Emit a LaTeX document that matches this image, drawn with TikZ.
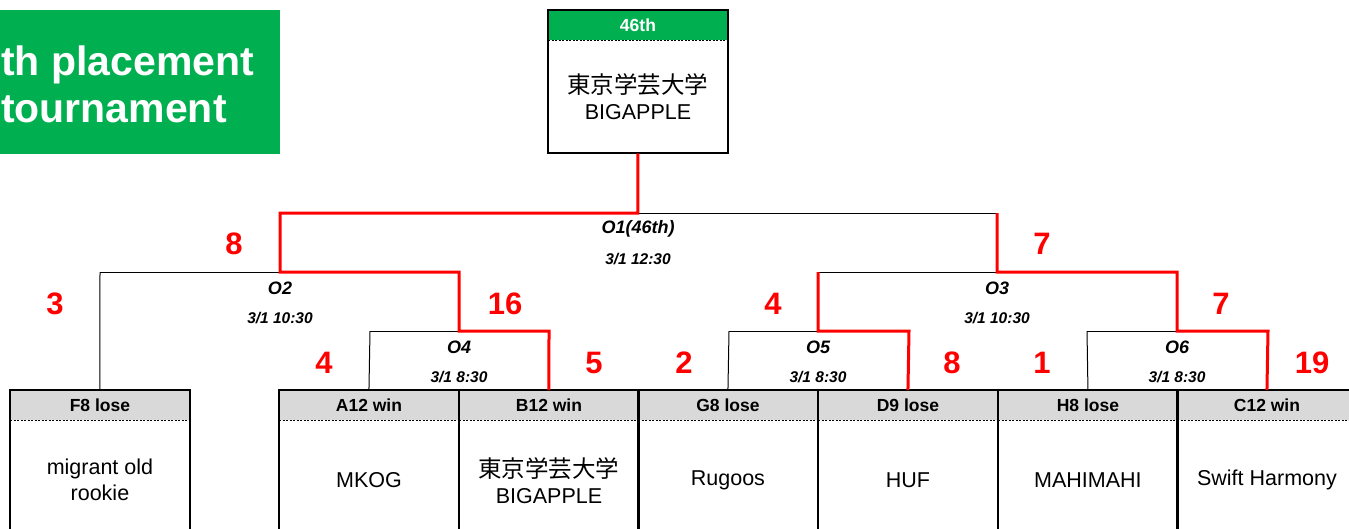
\documentclass[tikz,border=0pt]{standalone}
\usepackage{fontspec}
\setmainfont{Liberation Sans}
\newfontfamily\jpfont{Noto Sans CJK JP}
\definecolor{tgreen}{HTML}{00B050}
\definecolor{hgray}{HTML}{D9D9D9}
\definecolor{wred}{HTML}{FF0000}
\newcommand{\jptext}[1]{{\jpfont\fontsize{23.5}{26}\selectfont #1}}
\tikzset{
  cellhead/.style={anchor=north west, minimum width=179.5pt, minimum height=30pt, inner sep=0pt, fill=hgray, font=\fontsize{17.5}{20}\selectfont\bfseries},
  cellbody/.style={anchor=north west, minimum width=179.5pt, minimum height=120pt, inner sep=0pt, align=center, font=\fontsize{21.5}{26}\selectfont},
  cellframe/.style={line width=2pt},
  sepline/.style={line width=0.9pt, dash pattern=on 2pt off 1.5pt},
  thinline/.style={line width=1pt},
  winline/.style={line width=3pt, draw=wred},
  score/.style={text=wred, font=\fontsize{31}{31}\selectfont\bfseries, inner sep=0pt},
  mlabel/.style={font=\fontsize{18}{20}\selectfont\bfseries\itshape, inner sep=0pt},
  mdate/.style={font=\fontsize{15.5}{18}\selectfont\bfseries\itshape, inner sep=0pt},
  titletext/.style={anchor=base west, inner sep=0pt, text=white, font=\fontsize{41}{44}\selectfont\bfseries},
}
\begin{document}
\begin{tikzpicture}[x=1pt,y=-1pt]
\useasboundingbox (0,0) rectangle (1349,528);
\clip (0,0) rectangle (1349,528);
\fill[white] (0,0) rectangle (1349,528);

% title
\fill[tgreen] (0,10) rectangle (280,154);
\node[titletext] (title1) at (1,75) {th placement};
\node[titletext] (title2) at (1,122) {tournament};

% top box
\node[cellhead, fill=tgreen, text=white] (tophd) at (548,10) {46th};
\node[cellbody, minimum height=113pt] (topbd) at (548,40) {\jptext{東京学芸大学}\\BIGAPPLE};
\draw[cellframe] (tophd.north west) rectangle (topbd.south east);
\draw[sepline] (tophd.south west) -- (tophd.south east);

% team cells
\node[cellhead] (hF8) at (10,390) {F8 lose};
\node[cellbody] (bF8) at (10,420) {migrant old\\rookie};
\node[cellhead] (hA12) at (279,390) {A12 win};
\node[cellbody] (bA12) at (279,420) {MKOG};
\node[cellhead] (hB12) at (459,390) {B12 win};
\node[cellbody] (bB12) at (459,420) {\jptext{東京学芸大学}\\BIGAPPLE};
\node[cellhead] (hG8) at (638,390) {G8 lose};
\node[cellbody] (bG8) at (638,420) {Rugoos};
\node[cellhead] (hD9) at (818,390) {D9 lose};
\node[cellbody] (bD9) at (818,420) {HUF};
\node[cellhead] (hH8) at (998,390) {H8 lose};
\node[cellbody] (bH8) at (998,420) {MAHIMAHI};
\node[cellhead] (hC12) at (1177,390) {C12 win};
\node[cellbody] (bC12) at (1177,420) {Swift Harmony};
\foreach \c in {F8,A12,B12,G8,D9,H8,C12}{
  \draw[cellframe] (h\c.north west) rectangle (b\c.south east);
  \draw[sepline] (h\c.south west) -- (h\c.south east);
}

% bracket corners
\coordinate (o1L) at (280,213);
\coordinate (o1R) at (997,213);
\coordinate (o2L) at (100,272);
\coordinate (o2R) at (459,272);
\coordinate (o4L) at (370,331);
\coordinate (o4R) at (549,331);
\coordinate (o3L) at (818,272);
\coordinate (o3R) at (1177,272);
\coordinate (o5L) at (729,331);
\coordinate (o5R) at (909,331);
\coordinate (o6L) at (1087,331);
\coordinate (o6R) at (1268,331);

% black bracket lines
\draw[thinline] (o1L) -- (o1R);
\draw[thinline] (o2L) -- (o2R);
\draw[thinline] (o4L) -- (o4R);
\draw[thinline] (o3L) -- (o3R);
\draw[thinline] (o5L) -- (o5R);
\draw[thinline] (o6L) -- (o6R);
\draw[thinline] (o2L) -- (hF8.north);
\draw[thinline] (o4L) -- (hA12.north);
\draw[thinline] (o5L) -- (hG8.north);
\draw[thinline] (o6L) -- (hH8.north);

% winner lines
\draw[winline] (topbd.south) |- (o1L) |- (o2R) |- (o4R) -- (hB12.north);
\draw[winline] (o1R) |- (o3R) |- (o6R) -- (hC12.north);
\draw[winline] (o3L) |- (o5R) -- (hD9.north);

% match labels
\node[mlabel] (m1) at (638,229) {O1(46th)};
\node[mdate] (d1) at (638,259) {3/1 12:30};
\node[mlabel] (m2) at (280,288) {O2};
\node[mdate] (d2) at (280,318) {3/1 10:30};
\node[mlabel] (m4) at (459,347) {O4};
\node[mdate] (d4) at (459,377) {3/1 8:30};
\node[mlabel] (m3) at (997,288) {O3};
\node[mdate] (d3) at (997,318) {3/1 10:30};
\node[mlabel] (m5) at (818,347) {O5};
\node[mdate] (d5) at (818,377) {3/1 8:30};
\node[mlabel] (m6) at (1177,347) {O6};
\node[mdate] (d6) at (1177,377) {3/1 8:30};

% scores
\node[score] (s1) at (234,244) {8};
\node[score] (s2) at (55,304) {3};
\node[score] (s3) at (505,304) {16};
\node[score] (s4) at (324,363) {4};
\node[score] (s5) at (594,363) {5};
\node[score] (s6) at (684,363) {2};
\node[score] (s7) at (773,304) {4};
\node[score] (s8) at (952,363) {8};
\node[score] (s9) at (1042,363) {1};
\node[score] (s10) at (1042,244) {7};
\node[score] (s11) at (1221,304) {7};
\node[score] (s12) at (1312,363) {19};
\end{tikzpicture}
\end{document}
